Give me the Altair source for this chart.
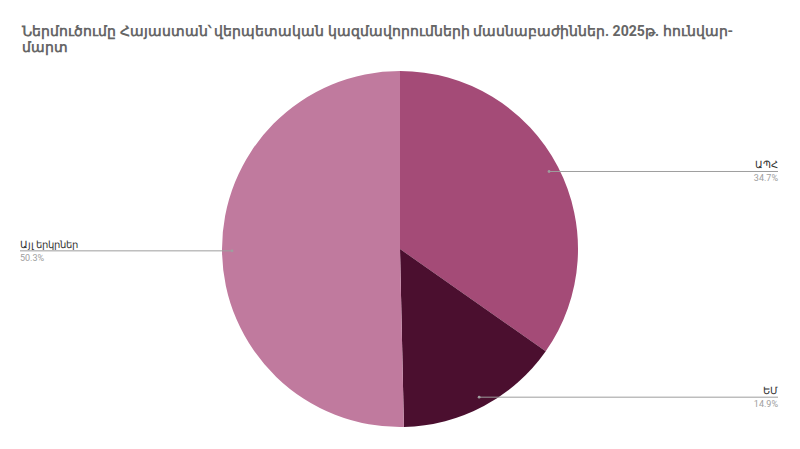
import altair as alt
import pandas as pd

categories = ["ԱՊՀ", "ԵՄ", "Այլ երկրներ"]
shares = [34.7, 14.9, 50.3]
colors = ["#a44b77", "#4b0f2f", "#c07a9e"]

title_lines = ["Ներմուծումը Հայաստան՝ վերպետական կազմավորումների մասնաբաժիններ. 2025թ. հունվար-", "մարտ"]

df = pd.DataFrame({"cat": categories, "share": shares, "ord": list(range(len(categories)))})

CX, CY, R, RL = 392, 192, 178, 168
XR, XL = 770, 12

base = alt.Chart(df)

pie = base.mark_arc(radius=R).encode(
    theta=alt.Theta("share:Q", stack=True),
    order=alt.Order("ord:Q"),
    color=alt.Color("cat:N", scale=alt.Scale(domain=categories, range=colors), legend=None),
    x=alt.value(CX), y=alt.value(CY),
)

pos = base.transform_window(
    cum="sum(share)", sort=[alt.SortField("ord")], frame=[None, 0]
).transform_joinaggregate(
    total="sum(share)"
).transform_calculate(
    mid="(datum.cum - datum.share/2) / datum.total * 2 * PI",
).transform_calculate(
    px=f"{CX} + {RL} * sin(datum.mid)",
    py=f"{CY} - {RL} * cos(datum.mid)",
    right=f"sin(datum.mid) > 0",
    pct="format(datum.share, '.1f') + '%'",
).transform_calculate(
    ex=f"datum.right ? {XR} : {XL}"
)

lines = pos.mark_rule(color="#9e9e9e", strokeWidth=1).encode(
    x=alt.X("px:Q", scale=None, axis=None),
    x2="ex:Q",
    y=alt.Y("py:Q", scale=None, axis=None),
)
dots = pos.mark_circle(color="#9e9e9e", size=8, opacity=1).encode(
    x=alt.X("px:Q", scale=None), y=alt.Y("py:Q", scale=None)
)

def labels(filt, align):
    p = pos.transform_filter(filt)
    name = p.mark_text(align=align, baseline="middle", dy=-6, fontSize=10,
                       font="Roboto", color="#333333").encode(
        x=alt.X("ex:Q", scale=None), y=alt.Y("py:Q", scale=None), text="cat:N")
    pc = p.mark_text(align=align, baseline="middle", dy=7, fontSize=9,
                     font="Roboto", color="#9e9e9e").encode(
        x=alt.X("ex:Q", scale=None), y=alt.Y("py:Q", scale=None), text="pct:N")
    return name + pc

chart = alt.layer(
    pie, lines, dots,
    labels("datum.right", "right"),
    labels("!datum.right", "left"),
).properties(
    width=784, height=384,
    title=alt.TitleParams(
        text=title_lines, anchor="start", dx=14, fontSize=14.1, font="Roboto",
        fontWeight="bold", color="#666666", lineHeight=16, offset=2,
    ),
    padding={"left": 0, "top": 49, "right": 0, "bottom": 0},
    autosize=alt.AutoSizeParams(type="none"),
).configure_view(stroke=None)

chart.save("out.html", embed_options={"renderer": "svg", "actions": False})
